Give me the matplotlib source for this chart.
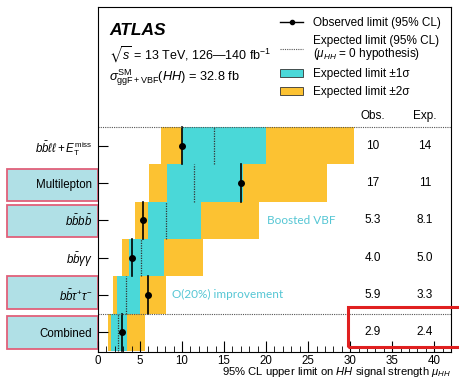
import matplotlib
matplotlib.use("Agg")
import matplotlib.pyplot as plt
import numpy as np
from matplotlib.lines import Line2D
from matplotlib.patches import Patch, Rectangle

plt.rcParams["font.family"] = ["Liberation Sans", "DejaVu Sans"]
plt.rcParams["mathtext.fontset"] = "custom"
plt.rcParams["mathtext.rm"] = "Liberation Sans"
plt.rcParams["mathtext.it"] = "Liberation Sans:italic"
plt.rcParams["mathtext.bf"] = "Liberation Sans:bold"
plt.rcParams["mathtext.fallback"] = "stixsans"

# canales de arriba hacia abajo
canales = [r"$b\bar{b}\ell\ell + E_{\mathrm{T}}^{\mathrm{miss}}$", "Multilepton",
           r"$b\bar{b}b\bar{b}$", r"$b\bar{b}\gamma\gamma$",
           r"$b\bar{b}\tau^{+}\tau^{-}$", "Combined"]
obs = [10.0, 17.0, 5.3, 4.0, 5.9, 2.9]
esp = [13.8, 11.4, 8.1, 5.1, 3.3, 2.4]
dos_sig_bajo = [7.5, 6.1, 4.4, 2.8, 1.8, 1.2]
dos_sig_alto = [30.4, 27.3, 19.2, 12.5, 8.1, 5.6]
un_sig_bajo = [10.0, 8.2, 5.9, 3.7, 2.3, 1.6]
un_sig_alto = [20.0, 17.3, 12.2, 7.8, 5.0, 3.5]
obs_txt = ["10", "17", "5.3", "4.0", "5.9", "2.9"]
esp_txt = ["14", "11", "8.1", "5.0", "3.3", "2.4"]
resaltados = ["Multilepton", r"$b\bar{b}b\bar{b}$", r"$b\bar{b}\tau^{+}\tau^{-}$", "Combined"]

cian = "#4ad8d8"
naranja = "#fcc232"
texto_cian = "#55c6d4"

fig = plt.figure(figsize=(4.6, 3.8), dpi=100)
ax = fig.add_axes([98 / 460, 28 / 380, 353 / 460, 345 / 380])

ypos = np.arange(len(canales))[::-1]
ax.barh(ypos, np.array(dos_sig_alto) - np.array(dos_sig_bajo), left=dos_sig_bajo,
        height=1.0, color=naranja, linewidth=0)
ax.barh(ypos, np.array(un_sig_alto) - np.array(un_sig_bajo), left=un_sig_bajo,
        height=1.0, color=cian, linewidth=0)
for y, o, e in zip(ypos, obs, esp):
    ax.plot([e, e], [y - 0.5, y + 0.5], ls=(0, (1, 1)), color="#333333", lw=0.9)
    ax.plot([o, o], [y - 0.5, y + 0.5], color="black", lw=1.2)
    ax.plot(o, y, "o", color="black", ms=4)

for y, ot, et in zip(ypos, obs_txt, esp_txt):
    ax.text(32.7, y, ot, ha="center", va="center", fontsize=8.5)
    ax.text(38.9, y, et, ha="center", va="center", fontsize=8.5)
ax.text(32.7, 5.80, "Obs.", ha="center", va="center", fontsize=8.5)
ax.text(38.9, 5.80, "Exp.", ha="center", va="center", fontsize=8.5)

ax.axhline(5.5, color="#555555", ls=(0, (1, 1)), lw=0.8)
ax.axhline(0.5, color="#555555", ls=(0, (1, 1)), lw=0.8)

ax.text(20.1, 3, "Boosted VBF", color=texto_cian, family="Lato", fontsize=8.5, va="center")
ax.text(8.8, 1, "O(20%) improvement", color=texto_cian, family="Lato", fontsize=8.5, va="center")

ax.text(0.032, 0.933, "ATLAS", transform=ax.transAxes, fontsize=12.5, weight="bold",
        style="italic", va="center")
ax.text(0.032, 0.861, r"$\sqrt{s}$ = 13 TeV, 126—140 fb$^{-1}$", transform=ax.transAxes,
        fontsize=9, va="center")
ax.text(0.032, 0.794, r"$\sigma^{\mathrm{SM}}_{\mathrm{ggF+VBF}}(HH)$ = 32.8 fb",
        transform=ax.transAxes, fontsize=9.2, va="center")

manejadores = [
    Line2D([], [], color="black", marker="o", ms=3, lw=1),
    Line2D([], [], color="#555555", ls=(0, (1, 1)), lw=0.8),
    Patch(facecolor=cian, edgecolor="#333333", lw=0.6),
    Patch(facecolor=naranja, edgecolor="#333333", lw=0.6),
]
etiquetas = ["Observed limit (95% CL)", "Expected limit (95% CL)\n($\\mu_{HH}$ = 0 hypothesis)",
             "Expected limit ±1σ", "Expected limit ±2σ"]
leyenda = ax.legend(manejadores, etiquetas, loc="upper left", bbox_to_anchor=(0.516, 0.971),
                    frameon=False, fontsize=8.5, handlelength=1.95, handletextpad=0.85,
                    labelspacing=0.5, borderpad=0, borderaxespad=0)
leyenda.get_texts()[1].set_linespacing(0.95)

ax.set_xlim(0, 42)
ax.set_ylim(-0.53, 8.72)
ax.set_yticks(ypos)
ax.set_yticklabels(canales, fontsize=8.3)
ax.set_xticks(np.arange(0, 41, 5))
ax.set_xticks(np.arange(0, 42, 1), minor=True)
ax.tick_params(axis="x", which="major", direction="in", length=8, labelsize=8.3, pad=2)
ax.tick_params(axis="x", which="minor", direction="in", length=4)
ax.tick_params(axis="y", direction="in", length=7, pad=4)
ax.set_xlabel(r"95% CL upper limit on $HH$ signal strength $\mu_{HH}$", fontsize=8.1,
              loc="right", labelpad=-1)

# cajas resaltadas a la izquierda
cajas = {"Multilepton": (169, 201), r"$b\bar{b}b\bar{b}$": (205, 237),
         r"$b\bar{b}\tau^{+}\tau^{-}$": (276, 309), "Combined": (316, 349)}
for nombre in resaltados:
    y0, y1 = cajas[nombre]
    fig.add_artist(Rectangle((7 / 460, (380 - y1) / 380), 91 / 460, (y1 - y0) / 380,
                             transform=fig.transFigure, facecolor="#b0e0e6",
                             edgecolor="#e0607a", lw=1.3, zorder=-1))
fig.add_artist(Rectangle((348 / 460, (380 - 347) / 380), 120 / 460, 40 / 380,
                         transform=fig.transFigure, facecolor="none",
                         edgecolor="#e02020", lw=2.2, zorder=5))

fig.savefig("out.png", dpi=100)
